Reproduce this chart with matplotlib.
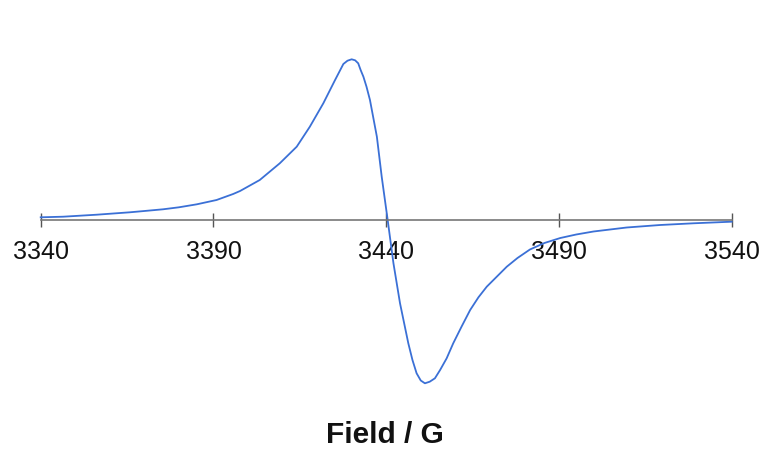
import matplotlib.pyplot as plt
import numpy as np

# field (G) and signal (arbitrary units)
field = [3340.0, 3346.5, 3356.2, 3365.8, 3370.0, 3375.4, 3380.0, 3385.2,
         3390.9, 3395.7, 3397.7, 3403.4, 3409.2, 3414.1, 3417.9, 3421.8,
         3425.2, 3426.4, 3427.6, 3428.8, 3430.0, 3431.0, 3431.9, 3432.6,
         3433.4, 3434.3, 3435.3, 3437.3, 3438.7, 3440.4, 3442.1, 3444.0,
         3446.4, 3447.6, 3448.8, 3450.0, 3451.2, 3452.6, 3454.1, 3455.6,
         3457.5, 3459.4, 3461.8, 3464.3, 3466.7, 3469.1, 3474.9, 3478.0,
         3481.6, 3485.8, 3490.4, 3495.0, 3500.0, 3509.6, 3519.3, 3528.9,
         3540.0]
signal = [2.2, 2.8, 4.8, 7.2, 8.5, 10.2, 12.2, 15.2,
          19.5, 25.5, 28.5, 39.5, 56.2, 72.8, 92.8, 116.2,
          139.5, 147.5, 155.5, 158.8, 160.2, 159.2, 156.2, 149.5,
          142.8, 132.8, 119.5, 82.8, 42.8, 0.2, -43.8, -83.8,
          -123.8, -140.5, -153.8, -161.0, -163.8, -162.2, -158.8, -150.5,
          -138.8, -123.8, -107.2, -90.5, -77.8, -67.2, -47.2, -38.5,
          -30.0, -23.5, -18.5, -15.0, -12.0, -8.0, -5.5, -3.8,
          -2.2]
ticks = [3340, 3390, 3440, 3490, 3540]

plt.rcParams['font.family'] = ['Liberation Sans', 'DejaVu Sans']

fig = plt.figure(figsize=(7.64, 4.49), dpi=100)
ax = fig.add_axes([40.7/764, 49/449, 691/764, 360/449])
ax.plot(field, signal, color='#3b70d6', lw=1.3, clip_on=False,
        solid_joinstyle='round')
ax.set_xlim(3340, 3540)
ax.set_ylim(-180.5, 179.5)

for s in ['top', 'right', 'left']:
    ax.spines[s].set_visible(False)
ax.spines['bottom'].set_position(('data', 0))
ax.spines['bottom'].set_color('#777777')
ax.spines['bottom'].set_linewidth(1.2)
ax.set_yticks([])
ax.set_xticks(ticks)
ax.tick_params(axis='x', direction='inout', length=10, width=1.0,
               color='#555555', labelsize=18, pad=10, labelcolor='#111111')

fig.text(385/764, 1 - 443/449, 'Field / G', ha='center', va='baseline',
         fontsize=21.5, fontweight='bold', color='#111111')

fig.savefig('out.png', dpi=100)
